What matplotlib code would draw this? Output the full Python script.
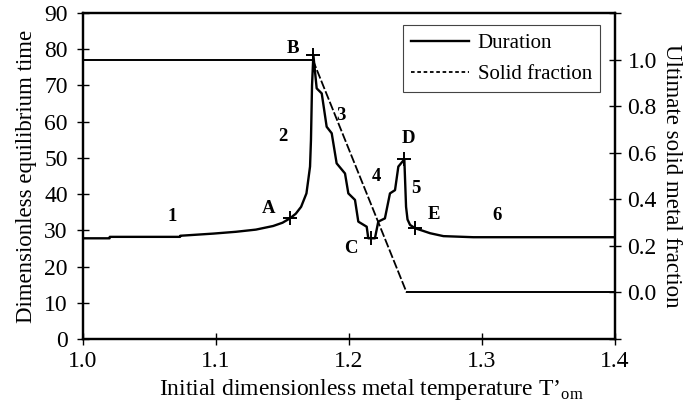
import numpy as np
import matplotlib.pyplot as plt
from matplotlib.lines import Line2D

plt.rcParams["font.family"] = "Liberation Serif"
plt.rcParams["mathtext.fontset"] = "custom"
plt.rcParams["mathtext.rm"] = "Liberation Serif"

# duration curve (left axis)
t_dur = [1.0, 1.020, 1.0201, 1.073, 1.0731, 1.098, 1.115, 1.130, 1.143, 1.150, 1.1556,
         1.160, 1.164, 1.168, 1.1694, 1.1707, 1.1714, 1.1722, 1.1732,
         1.1757, 1.1795, 1.1832, 1.187, 1.1907, 1.197, 1.1995, 1.2045, 1.207,
         1.2133, 1.2145, 1.2165, 1.2195, 1.222, 1.227, 1.2308, 1.2346, 1.2371,
         1.2416, 1.2429, 1.2440, 1.2459, 1.2496, 1.261, 1.271, 1.2935, 1.4]
dur = [27.8, 27.8, 28.2, 28.2, 28.5, 29.1, 29.6, 30.2, 31.2, 32.1, 33.3,
       34.6, 36.5, 40.2, 44.0, 47.6, 54.9, 70.0, 78.4,
       69.2, 67.8, 58.6, 56.8, 48.5, 45.7, 40.2, 38.4, 32.4,
       31.0, 27.8, 27.8, 27.8, 32.4, 33.3, 40.2, 41.1, 47.6,
       49.6, 36.5, 33.0, 31.5, 30.6, 29.2, 28.4, 28.1, 28.1]

# solid fraction (right axis)
t_sf = [1.0, 1.1727, 1.2433, 1.4]
sf = [1.0, 1.0, 0.0, 0.0]

# marked points
pt_t = [1.1556, 1.1732, 1.2165, 1.2416, 1.2496]
pt_v = [33.3, 78.4, 27.8, 49.6, 30.6]

# region labels
lab_txt = ["1", "2", "3", "4", "5", "6", "A", "B", "C", "D", "E"]
lab_x = [1.0674, 1.1505, 1.194, 1.2208, 1.2501, 1.311, 1.1393, 1.158, 1.2015, 1.2446, 1.2641]
lab_y = [33.8, 55.8, 61.8, 44.8, 41.6, 34.2, 36.0, 80.1, 25.0, 55.4, 34.3]

fig = plt.figure(figsize=(6.9, 4.12), dpi=100)
ax = fig.add_axes([0.1203, 0.1772, 0.771, 0.7912])
ax2 = ax.twinx()

l1, = ax.plot(t_dur, dur, color="black", lw=1.7)
ax.plot(pt_t, pt_v, "+", color="black", ms=10, mew=1.4)
# flat parts print solid, the falling part finely dashed
ax2.plot(t_sf[:2], sf[:2], color="black", lw=1.4)
ax2.plot(t_sf[1:3], sf[1:3], color="black", lw=1.3, ls=(0, (5, 1.3)))
ax2.plot(t_sf[2:], sf[2:], color="black", lw=1.4)

for s, x, y in zip(lab_txt, lab_x, lab_y):
    ax.text(x, y, s, fontsize=13.5, fontweight="bold", ha="center", va="center")

ax.set_xlim(1.0, 1.4)
ax.set_ylim(0, 90)
ax.set_xticks([1.0, 1.1, 1.2, 1.3, 1.4])
ax.set_xticklabels(["1.0", "1.1", "1.2", "1.3", "1.4"])
ax.set_yticks(np.arange(0, 91, 10))
ax2.set_ylim(-0.2, 1.2)
ax2.set_yticks([-0.2, 0.0, 0.2, 0.4, 0.6, 0.8, 1.0, 1.2])
ax2.set_yticklabels(["", "0.0", "0.2", "0.4", "0.6", "0.8", "1.0", ""])

for a in (ax, ax2):
    a.tick_params(direction="inout", length=8, width=1, labelsize=17, pad=5)
    for sp in a.spines.values():
        sp.set_linewidth(1.6)
ax.tick_params(axis="y", pad=7)

ax.set_xlabel("Initial dimensionless metal temperature T\u2019$_{\\mathrm{om}}$", fontsize=17)
ax.xaxis.set_label_coords(0.541, -0.118)
ax.set_ylabel("Dimensionless equilibrium time", fontsize=16.5, labelpad=5)
ax2.set_ylabel("Ultimate solid metal fraction", fontsize=16.5, rotation=-90, labelpad=18)

h1 = Line2D([], [], color="black", lw=1.7)
h2 = Line2D([], [], color="black", lw=1.3, ls=(0, (2, 1.5)))
leg = ax.legend(handles=[h1, h2], labels=["Duration", "Solid fraction"], loc="upper right",
                bbox_to_anchor=(0.972, 0.963), borderaxespad=0, fontsize=15, handlelength=2.8,
                handletextpad=0.4, labelspacing=0.55, borderpad=0.4, fancybox=False, framealpha=1)
leg.get_frame().set_edgecolor("#444444")
leg.get_frame().set_linewidth(0.8)

plt.savefig("out.png")
